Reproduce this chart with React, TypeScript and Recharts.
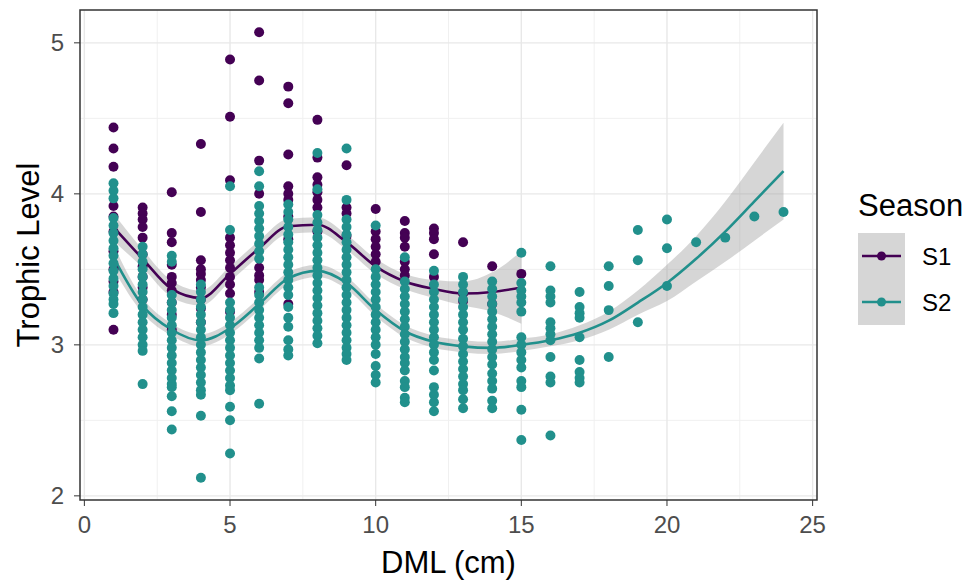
import {
  Area,
  CartesianGrid,
  ComposedChart,
  Legend,
  Line,
  ReferenceArea,
  Scatter,
  XAxis,
  YAxis,
  ZAxis,
} from "recharts";

const FONT = "'Liberation Sans', Arial, sans-serif";
const S1_COLOR = "#440154";
const S2_COLOR = "#21908C";

// DML (cm) classes
const dml = [1, 2, 3, 4, 5, 6, 7, 8, 9, 10, 11, 12, 13, 14, 15, 16, 17, 18, 19, 20, 21, 22, 23, 24];

// trophic level of each S1 individual, one list per DML class (1..15)
const s1Values: number[][] = [
  [4.44, 4.3, 4.18, 3.92, 3.85, 3.75, 3.62, 3.5, 3.42, 3.35, 3.1],
  [3.91, 3.87, 3.83, 3.78, 3.71, 3.6, 3.52, 3.45, 3.38, 3.3],
  [4.01, 3.74, 3.68, 3.53, 3.45, 3.41, 3.36, 3.28, 3.2, 3.1],
  [4.33, 3.88, 3.56, 3.5, 3.47, 3.43, 3.38, 3.3, 3.24, 3.15],
  [4.89, 4.51, 4.09, 3.71, 3.66, 3.61, 3.56, 3.51, 3.45, 3.4, 3.34, 3.22],
  [5.07, 4.75, 4.22, 4.0, 3.51, 3.46, 3.43, 3.35],
  [4.71, 4.6, 4.26, 4.05, 4.0, 3.96, 3.85, 3.7, 3.27],
  [4.49, 4.24, 4.11, 4.06, 4.01, 3.96, 3.91, 3.75],
  [4.19, 3.91, 3.87, 3.72],
  [3.9, 3.75, 3.7, 3.65, 3.6, 3.55],
  [3.82, 3.74, 3.71, 3.65, 3.55, 3.5, 3.46],
  [3.77, 3.74, 3.7, 3.6, 3.45],
  [3.68, 3.34, 3.29],
  [3.52, 3.27],
  [3.47],
];

// trophic level of each S2 individual, one list per DML class (1..24)
const s2Values: number[][] = [
  [4.07, 4.02, 3.97, 3.84, 3.79, 3.74, 3.69, 3.64, 3.59, 3.54, 3.49, 3.44, 3.39, 3.34, 3.3, 3.27, 3.21],
  [3.65, 3.6, 3.55, 3.5, 3.45, 3.4, 3.35, 3.3, 3.25, 3.2, 3.15, 3.1, 3.05, 3.0, 2.96, 2.74],
  [3.59, 3.55, 3.33, 3.28, 3.23, 3.18, 3.13, 3.08, 3.03, 2.98, 2.93, 2.88, 2.83, 2.78, 2.74, 2.72, 2.66, 2.56, 2.44],
  [3.4, 3.35, 3.3, 3.25, 3.2, 3.15, 3.1, 3.05, 3.0, 2.95, 2.9, 2.85, 2.8, 2.75, 2.7, 2.67, 2.53, 2.12],
  [4.05, 3.76, 3.28, 3.23, 3.18, 3.13, 3.08, 3.03, 2.98, 2.93, 2.88, 2.83, 2.78, 2.73, 2.7, 2.59, 2.5, 2.28],
  [4.15, 4.05, 3.92, 3.87, 3.82, 3.77, 3.72, 3.67, 3.62, 3.57, 3.38, 3.33, 3.28, 3.23, 3.18, 3.13, 3.08, 3.03, 2.98, 2.91, 2.61],
  [3.93, 3.88, 3.83, 3.78, 3.73, 3.68, 3.63, 3.58, 3.53, 3.48, 3.43, 3.38, 3.33, 3.25, 3.18, 3.12, 3.03, 2.97, 2.93],
  [4.27, 4.03, 3.86, 3.81, 3.76, 3.71, 3.66, 3.61, 3.56, 3.51, 3.46, 3.41, 3.36, 3.31, 3.26, 3.21, 3.16, 3.11, 3.06, 3.01],
  [4.3, 3.96, 3.83, 3.78, 3.73, 3.68, 3.63, 3.58, 3.53, 3.48, 3.43, 3.38, 3.33, 3.28, 3.23, 3.18, 3.13, 3.08, 3.03, 2.98, 2.94, 2.9],
  [3.79, 3.5, 3.45, 3.4, 3.35, 3.3, 3.25, 3.2, 3.15, 3.1, 3.05, 3.0, 2.94, 2.86, 2.8, 2.75],
  [3.58, 3.42, 3.37, 3.32, 3.27, 3.22, 3.17, 3.12, 3.07, 3.02, 2.97, 2.92, 2.88, 2.83, 2.76, 2.72, 2.65, 2.62],
  [3.49, 3.4, 3.35, 3.3, 3.25, 3.2, 3.15, 3.1, 3.05, 3.0, 2.95, 2.9, 2.83, 2.72, 2.67, 2.62, 2.56],
  [3.45, 3.4, 3.35, 3.3, 3.25, 3.2, 3.15, 3.1, 3.04, 2.99, 2.94, 2.89, 2.84, 2.79, 2.74, 2.7, 2.64, 2.58],
  [3.42, 3.37, 3.32, 3.27, 3.22, 3.17, 3.12, 3.07, 3.02, 2.97, 2.92, 2.87, 2.81, 2.76, 2.71, 2.63, 2.58],
  [3.61, 3.41, 3.36, 3.32, 3.28, 3.22, 3.05, 3.0, 2.95, 2.9, 2.85, 2.76, 2.72, 2.57, 2.37],
  [3.52, 3.36, 3.32, 3.28, 3.15, 3.11, 3.07, 3.03, 2.92, 2.79, 2.75, 2.4],
  [3.35, 3.25, 3.21, 3.18, 3.05, 2.9, 2.82, 2.78, 2.75],
  [3.52, 3.39, 3.23, 2.92],
  [3.76, 3.56, 3.15],
  [3.83, 3.64, 3.39],
  [3.68],
  [3.71],
  [3.85],
  [3.88],
];

// loess fit and half-width of the confidence band at each DML class
const s1Fit = [3.78, 3.57, 3.37, 3.31, 3.47, 3.64, 3.785, 3.795, 3.68, 3.52, 3.42, 3.37, 3.34, 3.35, 3.38];
const s1Se = [0.09, 0.06, 0.055, 0.05, 0.05, 0.05, 0.05, 0.05, 0.05, 0.05, 0.05, 0.06, 0.08, 0.13, 0.24];
const s2Fit = [3.58, 3.26, 3.1, 3.03, 3.11, 3.27, 3.44, 3.49, 3.41, 3.23, 3.09, 3.02, 2.99, 2.98, 3.0, 3.03, 3.08, 3.16, 3.28, 3.41, 3.57, 3.75, 3.95, 4.15];
const s2Se = [0.08, 0.05, 0.04, 0.04, 0.04, 0.04, 0.04, 0.04, 0.04, 0.04, 0.04, 0.04, 0.04, 0.04, 0.04, 0.04, 0.05, 0.06, 0.08, 0.12, 0.15, 0.2, 0.26, 0.32];

const xTicks = [0, 5, 10, 15, 20, 25];
const xMinor = [2.5, 7.5, 12.5, 17.5, 22.5];
const yTicks = [2, 3, 4, 5];
const yMinor = [2.5, 3.5, 4.5];
const xDomain: [number, number] = [-0.15, 25.15];
const yDomain: [number, number] = [1.9725, 5.2175];

const seasons = [
  { name: "S1", color: S1_COLOR },
  { name: "S2", color: S2_COLOR },
];

const s1Points = s1Values.flatMap((col, i) => col.map((y) => ({ x: dml[i], y })));
const s2Points = s2Values.flatMap((col, i) => col.map((y) => ({ x: dml[i], y })));

const fitRows = dml.map((x, i) => ({
  x,
  s1: s1Fit[i],
  s1Band: s1Fit[i] !== undefined ? [s1Fit[i] - s1Se[i], s1Fit[i] + s1Se[i]] : undefined,
  s2: s2Fit[i],
  s2Band: [s2Fit[i] - s2Se[i], s2Fit[i] + s2Se[i]],
}));

const tickStyle = { fontSize: 24, fill: "#4d4d4d", fontFamily: FONT };

function YTitle(props: any) {
  const vb = props.viewBox;
  const cx = vb.x + 28;
  const cy = vb.y + vb.height / 2;
  return (
    <text
      x={cx}
      y={cy}
      transform={`rotate(-90 ${cx} ${cy})`}
      textAnchor="middle"
      dominantBaseline="central"
      fontSize={31}
      fontFamily={FONT}
      fill="#000"
    >
      Trophic Level
    </text>
  );
}

function SeasonLegend() {
  return (
    <svg width={123} height={150} style={{ fontFamily: FONT }}>
      <text x={8} y={36} fontSize={31} fill="#000">
        Season
      </text>
      {seasons.map((s, i) => (
        <g key={s.name}>
          <rect x={8} y={53 + 46 * i} width={47} height={46} fill="#d6d6d6" />
          <line x1={12} x2={51} y1={76 + 46 * i} y2={76 + 46 * i} stroke={s.color} strokeWidth={2.5} />
          <circle cx={31.5} cy={76 + 46 * i} r={4.5} fill={s.color} />
          <text x={72} y={76 + 46 * i} dominantBaseline="central" fontSize={24} fill="#000">
            {s.name}
          </text>
        </g>
      ))}
    </svg>
  );
}

export default function App() {
  return (
    <div style={{ position: "absolute", left: 0, top: 0, width: 973, height: 586, background: "#fff" }}>
      <ComposedChart
        width={973}
        height={586}
        data={fitRows}
        margin={{ top: 10, right: 156, bottom: 6, left: 0 }}
        style={{ fontFamily: FONT }}
      >
        <CartesianGrid
          horizontal
          vertical
          verticalValues={xMinor}
          horizontalValues={yMinor}
          stroke="#f0f0f0"
          strokeWidth={1}
        />
        <CartesianGrid
          horizontal
          vertical
          verticalValues={xTicks}
          horizontalValues={yTicks}
          stroke="#e8e8e8"
          strokeWidth={1.4}
        />
        <XAxis
          type="number"
          dataKey="x"
          domain={xDomain}
          ticks={xTicks}
          allowDataOverflow
          height={80}
          tickSize={6}
          tickMargin={10}
          tick={tickStyle}
          tickLine={{ stroke: "#333" }}
          axisLine={false}
          label={{ value: "DML (cm)", position: "insideBottom", offset: 7, fontSize: 31, fill: "#000", fontFamily: FONT }}
        />
        <YAxis
          type="number"
          dataKey="y"
          domain={yDomain}
          ticks={yTicks}
          allowDataOverflow
          width={80}
          tickSize={6}
          tickMargin={10}
          tick={tickStyle}
          tickLine={{ stroke: "#333" }}
          axisLine={false}
          label={YTitle}
        />
        <ZAxis range={[78, 78]} />
        <Scatter data={s1Points} fill={S1_COLOR} isAnimationActive={false} />
        <Scatter data={s2Points} fill={S2_COLOR} isAnimationActive={false} />
        <Area
          dataKey="s1Band"
          type="monotone"
          stroke="none"
          fill="#999999"
          fillOpacity={0.4}
          isAnimationActive={false}
          connectNulls={false}
          activeDot={false}
        />
        <Line
          dataKey="s1"
          type="monotone"
          stroke={S1_COLOR}
          strokeWidth={2.6}
          dot={false}
          activeDot={false}
          isAnimationActive={false}
        />
        <Area
          dataKey="s2Band"
          type="monotone"
          stroke="none"
          fill="#999999"
          fillOpacity={0.4}
          isAnimationActive={false}
          activeDot={false}
        />
        <Line
          dataKey="s2"
          type="monotone"
          stroke={S2_COLOR}
          strokeWidth={2.6}
          dot={false}
          activeDot={false}
          isAnimationActive={false}
        />
        <ReferenceArea
          x1={xDomain[0]}
          x2={xDomain[1]}
          y1={yDomain[0]}
          y2={yDomain[1]}
          fill="none"
          stroke="#333"
          strokeWidth={1.5}
          ifOverflow="visible"
        />
        <Legend
          layout="horizontal"
          align="center"
          verticalAlign="middle"
          wrapperStyle={{ left: 850, top: 180, width: 123, height: 150 }}
          content={() => <SeasonLegend />}
        />
      </ComposedChart>
    </div>
  );
}
